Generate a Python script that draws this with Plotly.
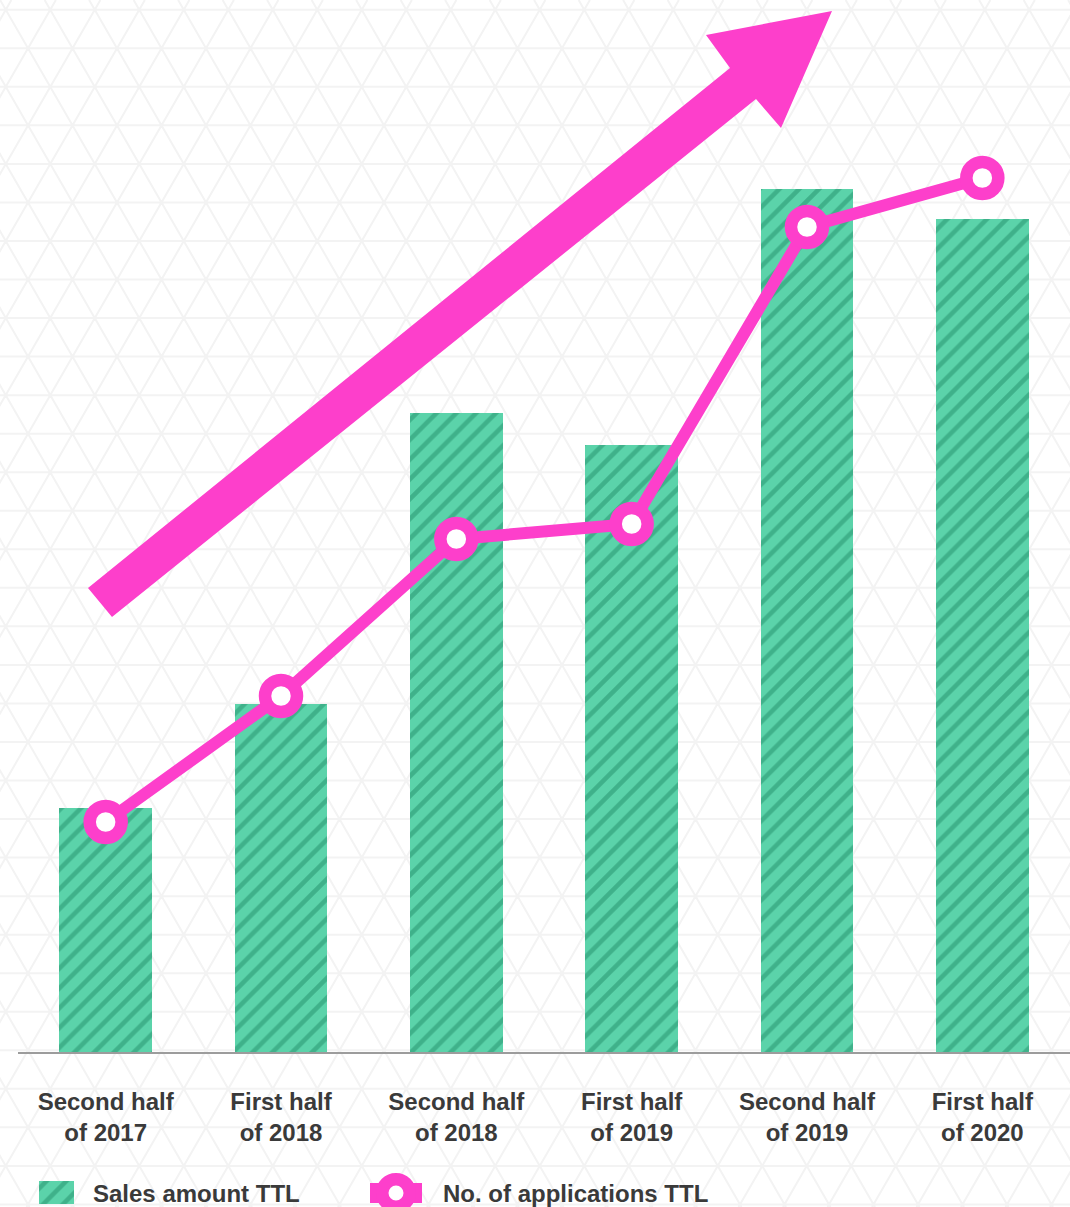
import numpy as np
import plotly.graph_objects as go

# ---- data ----
periods = [
    "Second half<br>of 2017",
    "First half<br>of 2018",
    "Second half<br>of 2018",
    "First half<br>of 2019",
    "Second half<br>of 2019",
    "First half<br>of 2020",
]
sales_amount = [24.4, 34.8, 63.9, 60.7, 86.3, 83.3]
applications = [23.0, 35.6, 51.3, 52.8, 82.5, 87.4]

series_names = ["Sales amount TTL", "No. of applications TTL"]

# ---- styling ----
W, H = 1070, 1207
PLOT_LEFT, PLOT_BOTTOM = 18, 1052          # pixel edges of the plotting area
GREEN = "#5bd3aa"
GREEN_DARK = "#24906a"
PINK = "#fd3fcb"
TEXT = "#3a3a3a"
FONT = "Liberation Sans, Arial, sans-serif"
STRIPES = dict(shape="/", fgcolor=GREEN_DARK, bgcolor=GREEN,
               size=14, solidity=0.33, fillmode="overlay")


def px(x, y):
    """pixel position -> paper coordinates (margins are zero)"""
    return x / W, 1 - y / H


fig = go.Figure()

# bars
fig.add_trace(go.Bar(
    x=periods, y=sales_amount, name=series_names[0],
    width=0.53,
    marker=dict(color=GREEN, line=dict(width=0), pattern=STRIPES),
    xaxis="x", yaxis="y", showlegend=False,
))

# line with ring markers
fig.add_trace(go.Scatter(
    x=periods, y=applications, name=series_names[1],
    mode="lines+markers",
    line=dict(color=PINK, width=12),
    marker=dict(size=32, color="white", line=dict(color=PINK, width=12.5)),
    cliponaxis=False, xaxis="x", yaxis="y", showlegend=False,
))

# ---- custom legend drawn on a full-figure pixel axis pair ----
fig.add_trace(go.Bar(
    x=[56.5], y=[23], base=[H - 1204], width=[35],
    marker=dict(color=GREEN, line=dict(width=0), pattern=STRIPES),
    xaxis="x2", yaxis="y2", showlegend=False, hoverinfo="skip",
))
fig.add_trace(go.Scatter(
    x=[370, 422], y=[H - 1193, H - 1193], mode="lines",
    line=dict(color=PINK, width=20),
    xaxis="x2", yaxis="y2", showlegend=False, hoverinfo="skip", cliponaxis=False,
))
fig.add_trace(go.Scatter(
    x=[396], y=[H - 1193], mode="markers",
    marker=dict(size=27.5, color="white", line=dict(color=PINK, width=12.5)),
    xaxis="x2", yaxis="y2", showlegend=False, hoverinfo="skip", cliponaxis=False,
))

legend_font = dict(family=FONT, size=24, color=TEXT, weight="bold")
for label, xpix in zip(series_names, [91, 441]):
    lx, ly = px(xpix, 1193)
    fig.add_annotation(x=lx, y=ly, xref="paper", yref="paper", text=label,
                       showarrow=False, xanchor="left", yanchor="middle",
                       font=legend_font)

# ---- background lattice (faint triangular grid) ----
side = 44.5
rowh = side * np.sqrt(3) / 2
y_ref, x_ref = 48.3, 28.0
segs = []
k0 = int(np.floor(-y_ref / rowh)) - 1
k1 = int(np.ceil((H - y_ref) / rowh)) + 1
for k in range(k0, k1 + 1):
    y = y_ref + k * rowh
    if 0 <= y <= H:
        segs.append(((0, y), (W, y)))
slope = 1 / np.sqrt(3)
for m in range(-30, 60):
    xv = x_ref + m * side
    for sgn in (1, -1):
        xa = xv + sgn * (0 - y_ref) * slope
        xb = xv + sgn * (H - y_ref) * slope
        if max(xa, xb) < 0 or min(xa, xb) > W:
            continue
        segs.append(((xa, 0), (xb, H)))
path = ""
for (xa, ya), (xb, yb) in segs:
    pa, pb = px(xa, ya), px(xb, yb)
    path += f"M{pa[0]:.5f},{pa[1]:.5f}L{pb[0]:.5f},{pb[1]:.5f}"
fig.add_shape(type="path", path=path, xref="paper", yref="paper",
              line=dict(color="#f3f3f3", width=2), layer="below")

# ---- rising arrow ----
arrow_px = [(88, 588), (730, 68), (706, 35), (832, 11),
            (781, 128), (756, 99), (112, 617)]
pts = [px(x, y) for x, y in arrow_px]
arrow_path = "M" + "L".join(f"{a:.5f},{b:.5f}" for a, b in pts) + "Z"
fig.add_shape(type="path", path=arrow_path, xref="paper", yref="paper",
              fillcolor=PINK, line=dict(width=0), layer="above")

fig.update_layout(
    width=W, height=H,
    margin=dict(l=0, r=0, t=0, b=0),
    paper_bgcolor="white",
    plot_bgcolor="rgba(0,0,0,0)",
    showlegend=False,
    bargap=0,
    xaxis=dict(
        domain=[PLOT_LEFT / W, 1], range=[-0.5, 5.5], type="category",
        showline=True, linecolor="#9c9c9c", linewidth=2,
        showgrid=False, zeroline=False, ticks="",
        tickfont=dict(family=FONT, size=24, color=TEXT, weight="bold"),
        ticklabelstandoff=27, automargin=False, fixedrange=True,
    ),
    yaxis=dict(
        domain=[(H - PLOT_BOTTOM) / H, 1], range=[0, 105.2],
        visible=False, automargin=False, fixedrange=True,
    ),
    xaxis2=dict(domain=[0, 1], range=[0, W], visible=False, anchor="y2"),
    yaxis2=dict(domain=[0, 1], range=[0, H], visible=False, anchor="x2"),
)

fig.write_html("out.html")
